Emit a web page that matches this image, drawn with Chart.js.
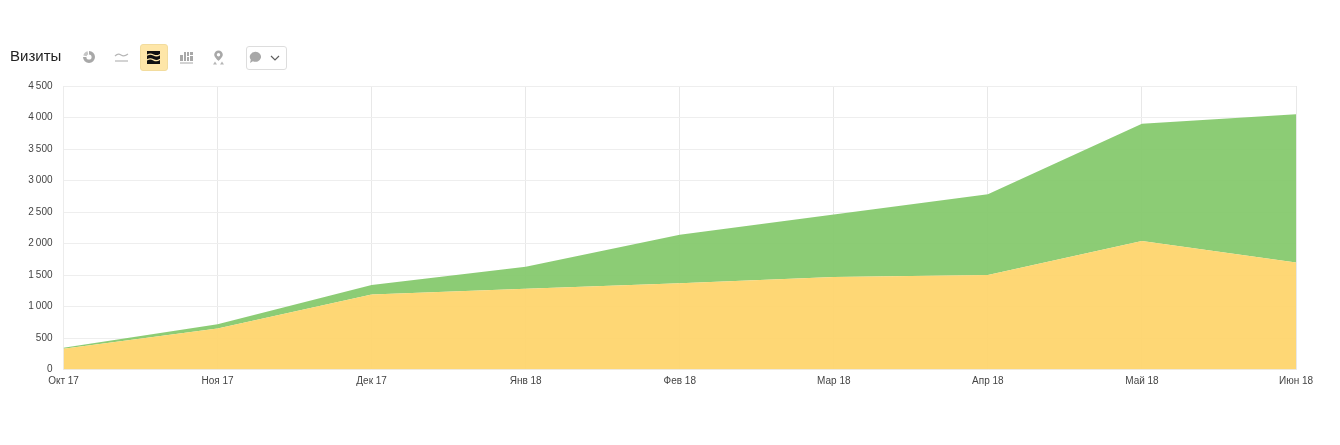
<!DOCTYPE html>
<html>
<head>
<meta charset="utf-8">
<title>Визиты</title>
<script src="https://cdn.jsdelivr.net/npm/chart.js@4/dist/chart.umd.min.js"></script>
<style>
  html, body { margin: 0; padding: 0; background: #fff; overflow: hidden; }
  #wrap { position: relative; width: 1340px; height: 445px; }
  #chart { position: absolute; left: 0; top: 0; }
  #title { position: absolute; left: 10px; top: 47px; font: 15px/18px "Liberation Sans", Arial, sans-serif; color: #222; }
  .ico { position: absolute; opacity: 0.85; }
  #active { position: absolute; left: 140px; top: 44px; width: 28px; height: 27px; background: #fee6a8; border: 1px solid #f2dc9e; border-radius: 3px; box-sizing: border-box; }
  #note { position: absolute; left: 246px; top: 46px; width: 41px; height: 24px; background: #fff; border: 1px solid #ddd; border-radius: 3px; box-sizing: border-box; }
</style>
</head>
<body>
<div id="wrap">
  <canvas id="chart" width="1340" height="445"></canvas>
  <div id="title">Визиты</div>

  <!-- toolbar icons -->
  <svg class="ico" style="left:82px;top:50px" width="14" height="14" viewBox="0 0 14 14">
    <path d="M7 1a6 6 0 1 1-6 6h3.400A2.600 2.600 0 1 0 7 4.400z" fill="#999"/>
    <path d="M1.300 5.600A6 6 0 0 1 5.600 1.300l.6 3.300a2.600 2.600 0 0 0-1.600 1.600z" fill="#bbb"/>
  </svg>
  <svg class="ico" style="left:114px;top:51px" width="15" height="12" viewBox="0 0 15 12">
    <path d="M1 5 Q4 2 7 4 T14 3" fill="none" stroke="#aaa" stroke-width="1.200"/>
    <path d="M1 10H14" stroke="#aaa" stroke-width="1.200"/>
  </svg>
  <div id="active"></div>
  <svg class="ico" style="left:147px;top:51px;opacity:1" width="13" height="13" viewBox="0 0 13 13">
    <rect width="13" height="13" fill="#111"/>
    <path d="M0 4.200 Q3 2.200 6.500 4 T13 3.400 M0 9 Q3 7 6.500 8.800 T13 8.200" fill="none" stroke="#fee6a8" stroke-width="1.300"/>
  </svg>
  <svg class="ico" style="left:180px;top:51px" width="13" height="13" viewBox="0 0 13 13">
    <path d="M0 4h3v6H0zM4 1h2v9H4zM7 1h2v4H7zM7 6h2v4H7zM10 1h3v3h-3zM10 5h3v5h-3zM0 11.500h13v1H0z" fill="#999"/>
  </svg>
  <svg class="ico" style="left:212px;top:50px" width="13" height="15" viewBox="0 0 13 15">
    <path d="M6.500 0.500a4.300 4.300 0 0 1 4.300 4.300c0 2.600-4.300 6.200-4.300 6.200S2.200 7.400 2.200 4.800A4.300 4.300 0 0 1 6.500 0.500z" fill="#999"/>
    <circle cx="6.500" cy="4.800" r="1.700" fill="#fff"/>
    <path d="M1 14.500l2-3 2 3zM8 14.500l2-3 2 3z" fill="#aaa"/>
  </svg>
  <div id="note"></div>
  <svg class="ico" style="left:249px;top:51px" width="13" height="13" viewBox="0 0 13 13">
    <path d="M6.500 0.800a5.500 5 0 1 1-2.600 9.400L1 12l.8-3.300A5.500 5 0 0 1 6.500.8z" fill="#999"/>
  </svg>
  <svg class="ico" style="left:270px;top:55px" width="10" height="6" viewBox="0 0 10 6">
    <path d="M1 1l4 4 4-4" fill="none" stroke="#444" stroke-width="1.200"/>
  </svg>
</div>

<script>
// Visits by month
const months = ["Окт 17", "Ноя 17", "Дек 17", "Янв 18", "Фев 18", "Мар 18", "Апр 18", "Май 18", "Июн 18"];
const yellowVisits = [330, 650, 1190, 1280, 1370, 1470, 1500, 2040, 1700];
const greenVisits = [15, 70, 150, 350, 770, 990, 1280, 1860, 2350];
const yTicks = [0, 500, 1000, 1500, 2000, 2500, 3000, 3500, 4000, 4500];

const ctx = document.getElementById("chart");

new Chart(ctx, {
    type: "line",
    data: {
        labels: months,
        datasets: [
            { label: "Жёлтая", data: yellowVisits, backgroundColor: "rgba(254,212,105,0.92)", borderWidth: 0, pointRadius: 0, tension: 0, fill: "origin" },
            { label: "Зелёная", data: greenVisits, backgroundColor: "rgba(130,200,105,0.92)", borderWidth: 0, pointRadius: 0, tension: 0, fill: "-1" }
        ]
    },
    options: {
        responsive: false,
        animation: false,
        layout: { padding: { left: 0, right: 44, top: 86, bottom: 0 } },
        plugins: { legend: { display: false }, tooltip: { enabled: false } },
        scales: {
            x: {
                offset: false,
                grid: { color: "#e8e8e8", lineWidth: 1, drawTicks: false },
                border: { color: "#ececec" },
                ticks: { autoSkip: false, maxRotation: 0, padding: 6, color: "#444", font: { family: "Liberation Sans", size: 10 } },
                afterFit: function (scale) { scale.height = 75.5; }
            },
            y: {
                stacked: true,
                min: 0,
                max: 4500,
                afterBuildTicks: function (scale) { scale.ticks = yTicks.map(v => ({ value: v })); },
                grid: { color: "#eeeeee", lineWidth: 1, drawTicks: false },
                border: { color: "#ececec" },
                ticks: {
                    padding: 11,
                    color: "#444",
                    font: { family: "Liberation Sans", size: 10 },
                    callback: function (value) { return String(value).replace(/\B(?=(\d{3})+$)/g, "\u2009"); }
                },
                afterFit: function (scale) { scale.width = 63.5; }
            }
        }
    }
});
</script>
</body>
</html>
